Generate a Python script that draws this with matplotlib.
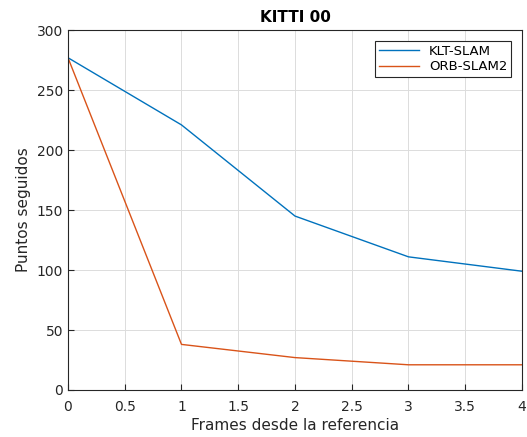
import matplotlib
matplotlib.use("Agg")
import matplotlib.pyplot as plt

# datos
frames = [0, 1, 2, 3, 4]
klt = [277, 221, 145, 111, 99]
orb = [277, 38, 27, 21, 21]

fig = plt.figure(figsize=(5.27, 4.37), dpi=100)
ax = fig.add_axes([0.129, 0.1076, 0.8615, 0.8234])

ax.plot(frames, klt, color=(0, 0.447, 0.741), lw=1.0, label="KLT-SLAM")
ax.plot(frames, orb, color=(0.85, 0.325, 0.098), lw=1.0, label="ORB-SLAM2")

ax.set_xlim(0, 4)
ax.set_ylim(0, 300)
ax.set_xticks([0, 0.5, 1, 1.5, 2, 2.5, 3, 3.5, 4])
ax.set_xticklabels(["0", "0.5", "1", "1.5", "2", "2.5", "3", "3.5", "4"])
ax.set_yticks(range(0, 301, 50))
ax.grid(True, color="#dcdcdc", lw=0.7)
ax.set_axisbelow(True)
ax.tick_params(direction="in", length=4, colors="#262626", labelsize=10, labelcolor="#262626")
ax.tick_params(axis="x", pad=7)
for s in ax.spines.values():
    s.set_color("#262626")
    s.set_linewidth(0.8)

ax.set_xlabel("Frames desde la referencia", fontsize=11, color="#262626", labelpad=3)
ax.set_ylabel("Puntos seguidos", fontsize=11, color="#262626")
ax.set_title("KITTI 00", fontsize=11, fontweight="bold", pad=6)

leg = ax.legend(loc="upper right", fancybox=False, framealpha=1, edgecolor="#262626",
                fontsize=9.5, handlelength=3.0, borderaxespad=0.8, borderpad=0.3,
                labelspacing=0.2)
leg.get_frame().set_linewidth(0.8)

fig.savefig("out.png", dpi=100)
